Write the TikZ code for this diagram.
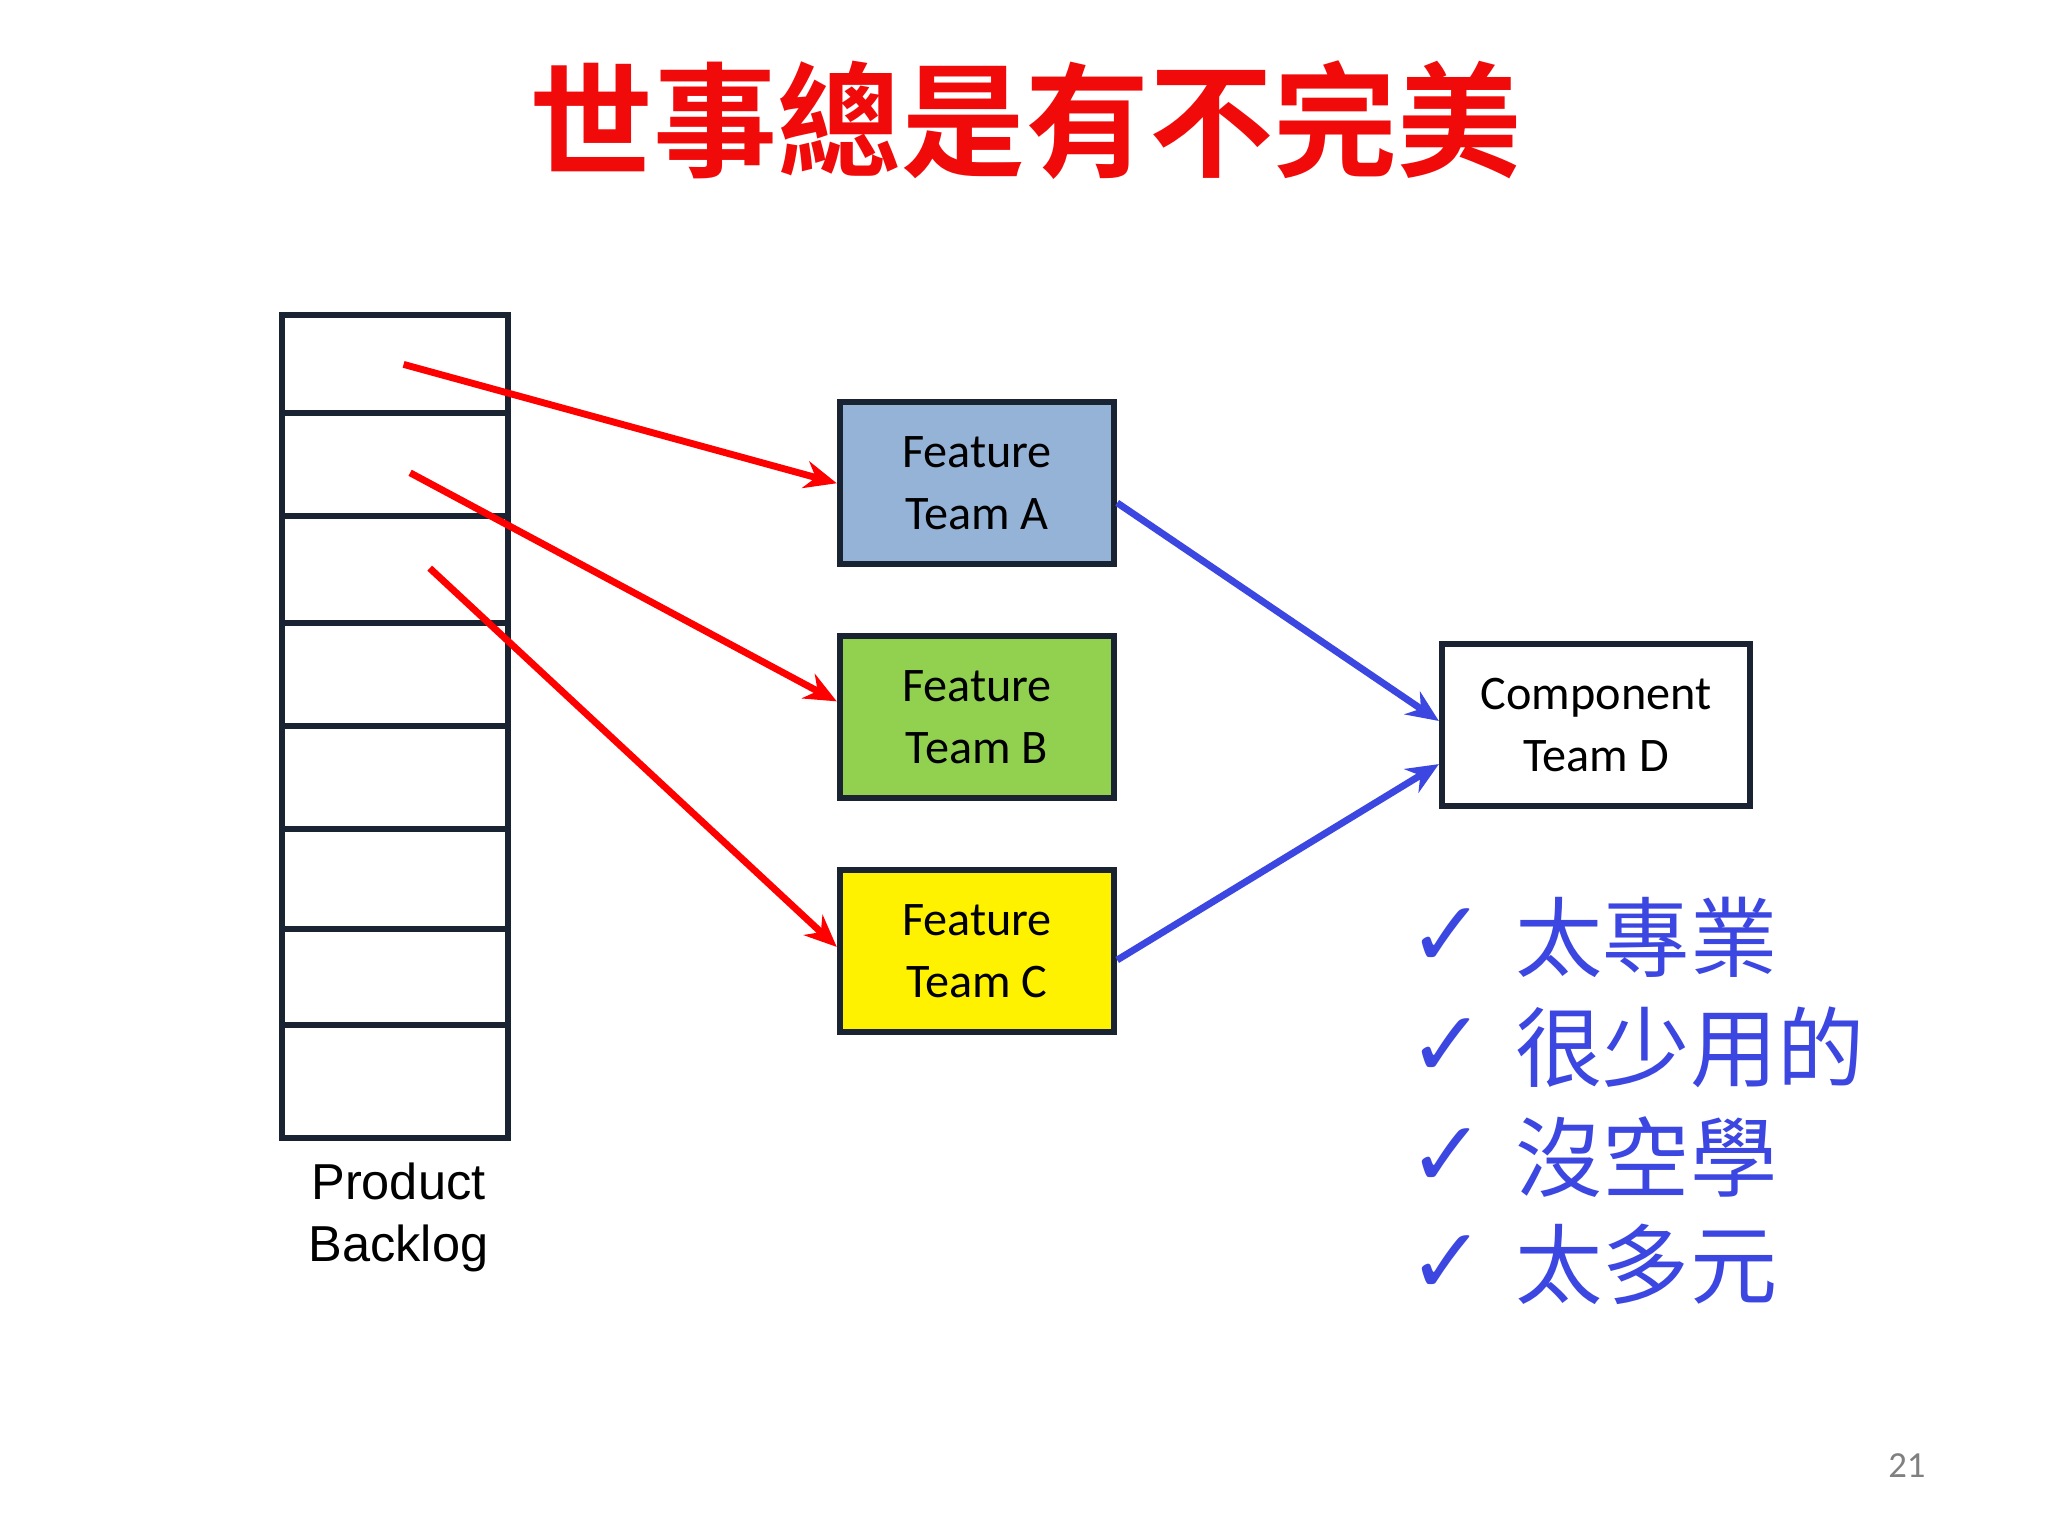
\documentclass[tikz,border=0pt]{standalone}
\usepackage{fontspec}
\setmainfont{Carlito}
\newfontfamily\cjk{Noto Sans CJK TC}
\newfontfamily\cjkb{Noto Sans CJK TC Bold}
\newfontfamily\arial{Liberation Sans}
\newfontfamily\djv{DejaVu Sans}
\usetikzlibrary{arrows.meta}
\definecolor{ttlred}{RGB}{240,10,10}
\definecolor{chk}{RGB}{60,70,225}
\definecolor{ablue}{RGB}{149,179,215}
\definecolor{bgreen}{RGB}{146,208,80}
\definecolor{edge}{RGB}{25,35,50}
\begin{document}
\begin{tikzpicture}[x=0.01cm,y=-0.01cm,
  team/.style={draw=edge,line width=1.3pt,minimum width=2.1cm,minimum height=1.24cm,align=center,font=\fontsize{10.5pt}{13.5pt}\selectfont,inner sep=0pt},
  red arr/.style={draw=red,line width=1.5pt,-{Stealth[length=7pt,width=6pt]}},
  blue arr/.style={draw=chk,line width=1.5pt,-{Stealth[length=7pt,width=6pt]}},
  ck/.style={anchor=west,text=chk,font=\cjk\fontsize{19pt}{22pt}\selectfont}]
\useasboundingbox (0,0) rectangle (1568,1176);
\node[text=ttlred,font=\cjkb\fontsize{27pt}{30pt}\selectfont] (title) at (785,92) {世事總是有不完美};
\node[draw=edge,line width=1.3pt,minimum width=1.73cm,minimum height=6.3cm,inner sep=0pt] (bl) at (302.5,556) {};
\foreach \y in {316,395,477,556,635,711,785} \draw[edge,line width=1.3pt] (216,\y) -- (389,\y);
\node[align=center,font=\arial\fontsize{11pt}{13.5pt}\selectfont] (pb) at (305,932) {Product\\Backlog};
\node[team,fill=ablue] (a) at (748,370) {Feature\\Team A};
\node[team,fill=bgreen] (b) at (748,549) {Feature\\Team B};
\node[team,fill=yellow] (c) at (748,728) {Feature\\Team C};
\node[team,fill=white,minimum width=2.36cm] (d) at (1222,555) {Component\\Team D};
\coordinate (s1) at (309,279);
\coordinate (s2) at (314,362);
\coordinate (s3) at (329,435);
\draw[red arr] (s1) -- (a.west);
\draw[red arr] (s2) -- ([yshift=0.12cm]b.west);
\draw[red arr] (s3) -- ([yshift=0.03cm]c.west);
\draw[blue arr] ([yshift=-0.15cm]a.east) -- ([yshift=0.03cm]d.west);
\draw[blue arr] ([yshift=-0.07cm]c.east) -- ([yshift=-0.3cm]d.west);
\foreach \y/\t [count=\i] in {718/太專業,802/很少用的,886/沒空學,968/太多元}{
  \node[text=chk,font=\djv\bfseries\fontsize{20pt}{22pt}\selectfont] (m\i) at (1108,\y) {✓};
  \node[ck] (t\i) at (1148,\y) {\t};
}
\node[text=gray,font=\fontsize{8pt}{9pt}\selectfont] (pn) at (1460,1122) {21};
\end{tikzpicture}
\end{document}
